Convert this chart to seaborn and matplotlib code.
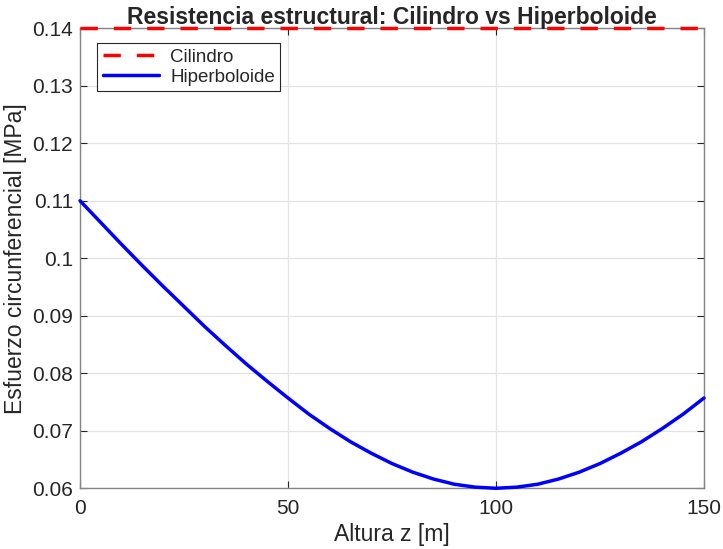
import numpy as np
import pandas as pd
import matplotlib
matplotlib.use("Agg")
import matplotlib.pyplot as plt
import seaborn as sns

# -------------------------------
# Data
# -------------------------------
altura = [0, 5, 10, 15, 20, 25, 30, 35, 40, 45, 50, 55, 60, 65, 70, 75,
          80, 85, 90, 95, 100, 105, 110, 115, 120, 125, 130, 135, 140, 145, 150]
esfuerzo_hip = [0.1100, 0.1062, 0.1024, 0.0987, 0.0951, 0.0916, 0.0881, 0.0848,
                0.0816, 0.0786, 0.0757, 0.0729, 0.0704, 0.0681, 0.0661, 0.0643,
                0.0628, 0.0616, 0.0607, 0.0602, 0.0600, 0.0602, 0.0607, 0.0616,
                0.0628, 0.0643, 0.0661, 0.0681, 0.0704, 0.0729, 0.0757]
esfuerzo_cil = 0.14

x_ticks = [0, 50, 100, 150]
y_ticks = [0.06, 0.07, 0.08, 0.09, 0.1, 0.11, 0.12, 0.13, 0.14]
y_labels = ["0.06", "0.07", "0.08", "0.09", "0.1", "0.11", "0.12", "0.13", "0.14"]

df = pd.DataFrame({
    "z": altura * 2,
    "sigma": [esfuerzo_cil] * len(altura) + esfuerzo_hip,
    "Forma": ["Cilindro"] * len(altura) + ["Hiperboloide"] * len(altura),
})

# -------------------------------
# Plot
# -------------------------------
sns.set_theme(style="whitegrid")
plt.rcParams["font.family"] = ["Liberation Sans", "DejaVu Sans"]

fig = plt.figure(figsize=(7.23, 5.49), dpi=100)
ax = fig.add_axes([0.1107, 0.1106, 0.8630, 0.8379])

sns.lineplot(data=df, x="z", y="sigma", hue="Forma", style="Forma",
             palette={"Cilindro": "#ff0000", "Hiperboloide": "#0000ff"},
             dashes={"Cilindro": (5.0, 4.6), "Hiperboloide": ""},
             linewidth=2.5, ax=ax, zorder=3, clip_on=False)

ax.set_xlim(0, 150)
ax.set_ylim(0.06, 0.14)
ax.set_xticks(x_ticks)
ax.set_yticks(y_ticks)
ax.set_yticklabels(y_labels)

ax.set_facecolor("white")
ax.grid(True, color="#e3e3e3", linewidth=0.9)
for s in ax.spines.values():
    s.set_visible(True)
    s.set_color("#848484")
    s.set_linewidth(1.0)
ax.tick_params(axis="both", direction="in", length=5, width=0.8, color="#262626",
               labelsize=15, labelcolor="#262626", top=True, right=True,
               bottom=True, left=True)
ax.tick_params(axis="x", pad=8)
ax.tick_params(axis="y", pad=5)

ax.set_title("Resistencia estructural: Cilindro vs Hiperboloide",
             fontsize=16.5, fontweight="bold", color="#262626", pad=3)
ax.set_xlabel("Altura z [m]", fontsize=16.5, color="#262626", labelpad=3)
ax.set_ylabel("Esfuerzo circunferencial [MPa]", fontsize=16.5, color="#262626", labelpad=4)

leg = ax.legend(loc="upper left", bbox_to_anchor=(0.027, 0.968), fontsize=13.5,
                frameon=True, fancybox=False, handlelength=3.0, borderpad=0.3,
                labelspacing=0.15, handletextpad=0.6, borderaxespad=0.0)
leg.get_frame().set_edgecolor("#262626")
leg.get_frame().set_linewidth(0.8)
leg.get_frame().set_alpha(1)

fig.savefig("out.png", dpi=100)
